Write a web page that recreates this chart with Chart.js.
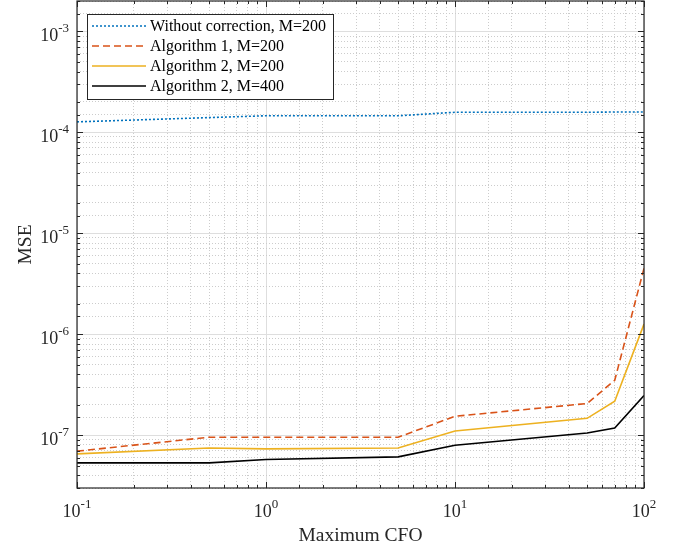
<!DOCTYPE html>
<html lang="en">
<head>
  <meta charset="UTF-8" />
  <title>MSE vs Maximum CFO</title>
  <script src="https://cdn.jsdelivr.net/npm/chart.js"></script>
  <style>
    body {
      margin: 0;
      background: white;
    }
    canvas {
      display: block;
    }
  </style>
</head>
<body>
  <canvas id="chart" width="679" height="550"></canvas>

  <script>
    // values
    const cfo = [0.1, 0.5, 1, 5, 10, 50, 70, 100];
    const withoutCorr = [1.27e-4, 1.40e-4, 1.46e-4, 1.46e-4, 1.58e-4, 1.58e-4, 1.59e-4, 1.59e-4];
    const alg1M200 = [6.95e-8, 9.55e-8, 9.55e-8, 9.55e-8, 1.54e-7, 2.06e-7, 3.5e-7, 4.5e-6];
    const alg2M200 = [6.53e-8, 7.48e-8, 7.32e-8, 7.48e-8, 1.10e-7, 1.47e-7, 2.17e-7, 1.26e-6];
    const alg2M400 = [5.32e-8, 5.32e-8, 5.74e-8, 6.1e-8, 7.96e-8, 1.05e-7, 1.18e-7, 2.47e-7];

    const seriesNames = ["Without correction, M=200", "Algorithm 1, M=200", "Algorithm 2, M=200", "Algorithm 2, M=400"];
    const xExponents = [-1, 0, 1, 2];
    const yExponents = [-7, -6, -5, -4, -3];
    const xTitle = "Maximum CFO";
    const yTitle = "MSE";

    const serif = "'Liberation Serif', 'Times New Roman', serif";

    function isDecade(v) {
      const l = Math.log10(v);
      return Math.abs(l - Math.round(l)) < 1e-6;
    }

    function pts(ys) {
      return cfo.map((x, i) => ({ x: x, y: ys[i] }));
    }

    function gridColor(ctx) {
      if (!ctx.tick) return "#dcdcdc";
      return isDecade(ctx.tick.value) ? "#dedede" : "#cccccc";
    }

    function gridDash(ctx) {
      if (!ctx.tick) return [];
      return isDecade(ctx.tick.value) ? [] : [1, 2];
    }

    // draws "10" with a raised exponent
    function powerLabel(ctx, e, x, y, align) {
      const base = "10", exp = String(e);
      ctx.font = "18px " + serif;
      const wb = ctx.measureText(base).width;
      ctx.font = "13px " + serif;
      const we = ctx.measureText(exp).width;
      let left = align === "right" ? x - wb - we : x - (wb + we) / 2;
      ctx.textAlign = "left";
      ctx.textBaseline = "alphabetic";
      ctx.font = "18px " + serif;
      ctx.fillText(base, left, y);
      ctx.font = "13px " + serif;
      ctx.fillText(exp, left + wb, y - 9);
    }

    const decor = {
      id: "decor",
      afterDatasetsDraw(chart) {
        const { ctx, chartArea: a, scales } = chart;
        const xs = scales.x, ys = scales.y;
        ctx.save();

        // box and inward ticks
        ctx.strokeStyle = "#262626";
        ctx.lineWidth = 1;
        ctx.setLineDash([]);
        ctx.beginPath();
        xs.ticks.forEach(t => {
          const px = Math.round(xs.getPixelForValue(t.value)) + 0.5;
          const len = isDecade(t.value) ? 6 : 3;
          ctx.moveTo(px, a.bottom); ctx.lineTo(px, a.bottom - len);
          ctx.moveTo(px, a.top); ctx.lineTo(px, a.top + len);
        });
        ys.ticks.forEach(t => {
          const py = Math.round(ys.getPixelForValue(t.value)) + 0.5;
          const len = isDecade(t.value) ? 6 : 3;
          ctx.moveTo(a.left, py); ctx.lineTo(a.left + len, py);
          ctx.moveTo(a.right, py); ctx.lineTo(a.right - len, py);
        });
        ctx.stroke();
        ctx.lineWidth = 1.2;
        ctx.strokeRect(a.left, a.top, a.right - a.left, a.bottom - a.top);

        // tick labels
        ctx.fillStyle = "#262626";
        xExponents.forEach(e => {
          powerLabel(ctx, e, xs.getPixelForValue(Math.pow(10, e)), a.bottom + 29, "center");
        });
        yExponents.forEach(e => {
          powerLabel(ctx, e, a.left - 8, ys.getPixelForValue(Math.pow(10, e)) + 10, "right");
        });

        // axis titles
        ctx.font = "19.5px " + serif;
        ctx.textAlign = "center";
        ctx.textBaseline = "alphabetic";
        ctx.fillText(xTitle, (a.left + a.right) / 2, 541);
        ctx.save();
        ctx.translate(31, (a.top + a.bottom) / 2);
        ctx.rotate(-Math.PI / 2);
        ctx.fillText(yTitle, 0, 0);
        ctx.restore();

        // legend box
        const bx = 87.5, by = 14.5, bw = 246, bh = 85;
        ctx.fillStyle = "white";
        ctx.fillRect(bx, by, bw, bh);
        ctx.strokeStyle = "#262626";
        ctx.lineWidth = 1;
        ctx.strokeRect(bx, by, bw, bh);
        ctx.font = "16px " + serif;
        ctx.textAlign = "left";
        ctx.textBaseline = "middle";
        chart.data.datasets.forEach((ds, i) => {
          const ry = 26 + i * 20;
          ctx.strokeStyle = ds.borderColor;
          ctx.lineWidth = ds.borderWidth;
          ctx.setLineDash(ds.borderDash || []);
          ctx.beginPath();
          ctx.moveTo(92, ry);
          ctx.lineTo(146, ry);
          ctx.stroke();
          ctx.setLineDash([]);
          ctx.fillStyle = "#000";
          ctx.fillText(ds.label, 150, ry + 1);
        });

        ctx.restore();
      }
    };

    const axisOpts = {
      type: "logarithmic",
      ticks: { display: false },
      grid: { color: gridColor, lineWidth: 1, drawTicks: false },
      border: { display: false, dash: gridDash }
    };

    new Chart(document.getElementById("chart"), {
      type: "line",
      data: {
        datasets: [
          { label: seriesNames[0], data: pts(withoutCorr), borderColor: "#0072BD", borderWidth: 1.6, borderDash: [2, 2] },
          { label: seriesNames[1], data: pts(alg1M200), borderColor: "#D95319", borderWidth: 1.6, borderDash: [7, 4] },
          { label: seriesNames[2], data: pts(alg2M200), borderColor: "#EDB120", borderWidth: 1.6 },
          { label: seriesNames[3], data: pts(alg2M400), borderColor: "#000000", borderWidth: 1.6 }
        ]
      },
      options: {
        responsive: false,
        animation: false,
        devicePixelRatio: 1,
        parsing: false,
        elements: { point: { radius: 0 }, line: { tension: 0 } },
        layout: { padding: { left: 77, right: 35, top: 1, bottom: 62 } },
        plugins: { legend: { display: false }, tooltip: { enabled: false } },
        scales: {
          x: Object.assign({}, axisOpts, { min: 0.1, max: 100 }),
          y: Object.assign({}, axisOpts, { min: 3e-8, max: 2e-3 })
        }
      },
      plugins: [decor]
    });
  </script>
</body>
</html>
